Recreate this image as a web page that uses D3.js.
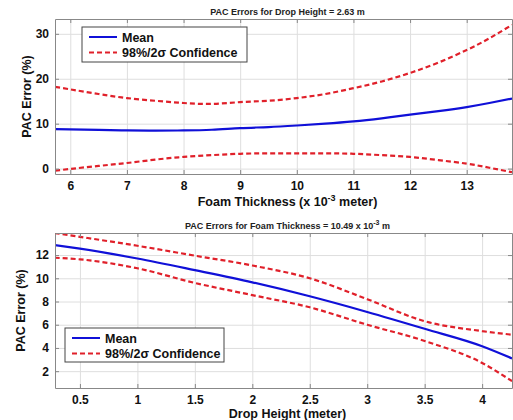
<!DOCTYPE html>
<html>
<head>
<meta charset="utf-8">
<script src="https://cdn.jsdelivr.net/npm/d3@7"></script>
<style>
  body { margin: 0; background: #fff; }
  svg { display: block; font-family: Arial, "Liberation Sans", sans-serif; }
</style>
</head>
<body>
<svg id="chart" width="513" height="420"></svg>
<script>
// Panel 1: error vs foam thickness (drop height fixed at 2.63 m)
const thickness = [5.73, 6.5, 7, 7.5, 8, 8.5, 9, 9.5, 10, 10.5, 11, 11.5, 12, 12.5, 13, 13.4, 13.8];
const thickMean = [8.8, 8.6, 8.5, 8.45, 8.5, 8.65, 9.0, 9.25, 9.6, 10.0, 10.5, 11.2, 12.0, 12.8, 13.7, 14.6, 15.6];
const thickUpper = [18.2, 16.6, 15.7, 15.1, 14.6, 14.4, 14.8, 15.1, 15.7, 16.6, 17.9, 19.4, 21.3, 23.6, 26.4, 29.0, 32.0];
const thickLower = [-0.45, 0.6, 1.25, 2.0, 2.6, 3.0, 3.3, 3.4, 3.4, 3.4, 3.3, 3.0, 2.6, 1.9, 1.1, 0.2, -0.8];
const thickXTicks = [6, 7, 8, 9, 10, 11, 12, 13];
const thickYTicks = [0, 10, 20, 30];

// Panel 2: error vs drop height (foam thickness fixed at 10.49 x 10^-3 m)
const height = [0.28, 0.5, 1, 1.5, 2, 2.5, 3, 3.5, 4, 4.26];
const heightMean = [12.86, 12.55, 11.7, 10.7, 9.65, 8.45, 7.1, 5.65, 4.15, 3.1];
const heightUpper = [13.9, 13.57, 12.8, 11.95, 11.1, 10.0, 8.2, 6.3, 5.45, 5.14];
const heightLower = [11.77, 11.63, 10.86, 9.6, 8.55, 7.5, 6.0, 4.6, 2.71, 1.14];
const heightXTicks = [0.5, 1, 1.5, 2, 2.5, 3, 3.5, 4];
const heightYTicks = [2, 4, 6, 8, 10, 12];

const legendLabels = ["Mean", "98%/2\u03c3 Confidence"];

const svg = d3.select("#chart");

function panel(cfg) {
  const x = d3.scaleLinear().domain(cfg.xDomain).range([cfg.left, cfg.right]);
  const y = d3.scaleLinear().domain(cfg.yDomain).range([cfg.bottom, cfg.top]);
  const g = svg.append("g");

  // light grid
  g.append("g").attr("transform", `translate(0,${cfg.bottom})`)
    .call(d3.axisBottom(x).tickValues(cfg.xTicks).tickSize(-(cfg.bottom - cfg.top)).tickFormat(""))
    .call(s => s.select(".domain").remove())
    .call(s => s.selectAll("line").attr("stroke", "#dedede").attr("stroke-width", 1));
  g.append("g").attr("transform", `translate(${cfg.left},0)`)
    .call(d3.axisLeft(y).tickValues(cfg.yTicks).tickSize(-(cfg.right - cfg.left)).tickFormat(""))
    .call(s => s.select(".domain").remove())
    .call(s => s.selectAll("line").attr("stroke", "#dedede").attr("stroke-width", 1));

  // curves
  const line = d3.line().x((d, i) => x(cfg.xs[i])).y(d => y(d)).curve(cfg.curve);
  const clipId = "clip" + cfg.id;
  svg.append("clipPath").attr("id", clipId).append("rect")
    .attr("x", cfg.left).attr("y", cfg.top).attr("width", cfg.right - cfg.left).attr("height", cfg.bottom - cfg.top);
  const curves = g.append("g").attr("clip-path", `url(#${clipId})`);
  [cfg.upper, cfg.lower].forEach(arr => {
    curves.append("path").attr("d", line(arr)).attr("fill", "none")
      .attr("stroke", "#e0202a").attr("stroke-width", 2.2).attr("stroke-dasharray", "5,3");
  });
  curves.append("path").attr("d", line(cfg.mean)).attr("fill", "none")
    .attr("stroke", "#1010d8").attr("stroke-width", 2.2);

  // frame with inward ticks on all sides
  const axisStyle = s => {
    s.select(".domain").attr("stroke", "#888").attr("stroke-width", 1);
    s.selectAll(".tick line").attr("stroke", "#888");
    s.selectAll("text").attr("font-size", 12).attr("font-weight", "bold").attr("fill", "#111");
  };
  g.append("g").attr("transform", `translate(0,${cfg.bottom})`)
    .call(d3.axisBottom(x).tickValues(cfg.xTicks).tickSizeInner(-4).tickSizeOuter(0).tickPadding(7).tickFormat(d3.format("")))
    .call(axisStyle);
  g.append("g").attr("transform", `translate(0,${cfg.top})`)
    .call(d3.axisTop(x).tickValues(cfg.xTicks).tickSizeInner(-4).tickSizeOuter(0).tickFormat(""))
    .call(axisStyle);
  g.append("g").attr("transform", `translate(${cfg.left},0)`)
    .call(d3.axisLeft(y).tickValues(cfg.yTicks).tickSizeInner(-4).tickSizeOuter(0).tickPadding(6).tickFormat(d3.format("")))
    .call(axisStyle);
  g.append("g").attr("transform", `translate(${cfg.right},0)`)
    .call(d3.axisRight(y).tickValues(cfg.yTicks).tickSizeInner(-4).tickSizeOuter(0).tickFormat(""))
    .call(axisStyle);

  // title
  const cx = (cfg.left + cfg.right) / 2 + 4;
  const t = g.append("text").attr("x", cx).attr("y", cfg.top - 4).attr("text-anchor", "middle")
    .attr("font-size", 9).attr("font-weight", "bold").attr("fill", "#222");
  cfg.title(t);

  // axis labels
  const xl = g.append("text").attr("x", cx).attr("y", cfg.bottom + cfg.xLabelGap).attr("text-anchor", "middle")
    .attr("font-size", 12.5).attr("font-weight", "bold").attr("fill", "#111");
  cfg.xLabel(xl);
  g.append("text").attr("transform", `translate(${cfg.yLabelX},${(cfg.top + cfg.bottom) / 2}) rotate(-90)`)
    .attr("text-anchor", "middle").attr("font-size", 12.5).attr("font-weight", "bold").attr("fill", "#111")
    .text("PAC Error (%)");

  // legend
  const L = cfg.legend;
  g.append("rect").attr("x", L.x).attr("y", L.y).attr("width", L.w).attr("height", L.h)
    .attr("fill", "#fff").attr("stroke", "#444").attr("stroke-width", 1);
  legendLabels.forEach((lab, i) => {
    const yy = L.y + 10 + i * 15.5;
    g.append("line").attr("x1", L.x + 7).attr("x2", L.x + 35).attr("y1", yy).attr("y2", yy)
      .attr("stroke", i === 0 ? "#1010d8" : "#e0202a").attr("stroke-width", 2)
      .attr("stroke-dasharray", i === 0 ? null : "5,3");
    g.append("text").attr("x", L.x + 40).attr("y", yy + 4.5).attr("font-size", 12.5)
      .attr("font-weight", "bold").attr("fill", "#111").text(lab);
  });
}

panel({
  id: 1, left: 55, right: 512, top: 19, bottom: 174,
  xDomain: [5.73, 13.8], yDomain: [-1.2, 33.3],
  xs: thickness, mean: thickMean, upper: thickUpper, lower: thickLower,
  xTicks: thickXTicks, yTicks: thickYTicks, curve: d3.curveNatural,
  legend: { x: 82, y: 27, w: 165, h: 35 },
  xLabelGap: 32, yLabelX: 31,
  title: t => t.text("PAC Errors for Drop Height = 2.63 m"),
  xLabel: t => {
    t.append("tspan").text("Foam Thickness (x 10");
    t.append("tspan").attr("dy", -5).attr("font-size", 9).text("-3");
    t.append("tspan").attr("dy", 5).text(" meter)");
  }
});

panel({
  id: 2, left: 55, right: 512, top: 233, bottom: 388,
  xDomain: [0.283, 4.26], yDomain: [0.55, 13.9],
  xs: height, mean: heightMean, upper: heightUpper, lower: heightLower,
  xTicks: heightXTicks, yTicks: heightYTicks, curve: d3.curveMonotoneX,
  legend: { x: 65, y: 328, w: 159, h: 34 },
  xLabelGap: 30, yLabelX: 25,
  title: t => {
    t.append("tspan").text("PAC Errors for Foam Thickness = 10.49 x 10");
    t.append("tspan").attr("dy", -4).attr("font-size", 7).text("-3");
    t.append("tspan").attr("dy", 4).text(" m");
  },
  xLabel: t => t.text("Drop Height (meter)")
});
</script>
</body>
</html>
